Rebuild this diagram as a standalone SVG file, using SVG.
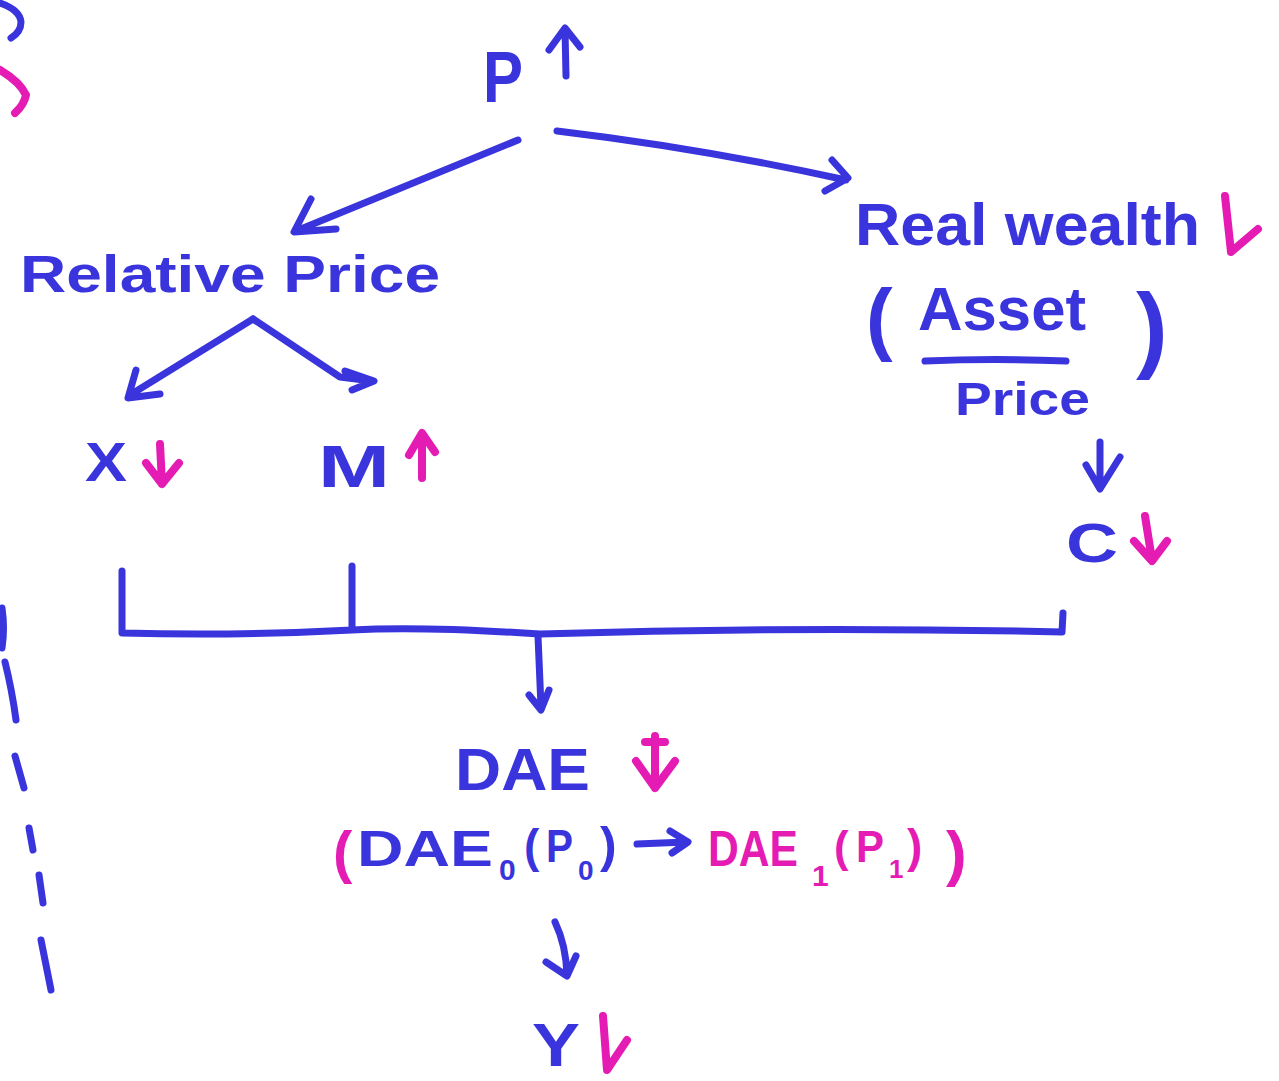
<svg xmlns="http://www.w3.org/2000/svg" width="1279" height="1081" viewBox="0 0 1279 1081">
<style>
.bg{fill:#ffffff}
.t{font-family:"Liberation Sans","DejaVu Sans",sans-serif;font-weight:bold;fill:#3a34dc}
.tp{font-family:"Liberation Sans","DejaVu Sans",sans-serif;font-weight:bold;fill:#e41cb4}
.bl{fill:none;stroke:#3a34dc;stroke-width:7;stroke-linecap:round;stroke-linejoin:round}
.pk{fill:none;stroke:#e41cb4;stroke-width:8;stroke-linecap:round;stroke-linejoin:round}
</style>
<rect class="bg" x="0" y="0" width="1279" height="1081"/>

<g id="margin-marks">
<path class="bl" d="M0,3 Q20,10 21,22 Q21,32 11,38"/>
<path class="pk" d="M0,70 Q20,82 26,95 Q24,105 15,113"/>
<path class="bl" d="M2,608 Q5,628 2,648"/>
<path class="bl" d="M5,662 Q12,690 16,720"/>
<path class="bl" d="M15,756 L24,788"/>
<path class="bl" d="M29,828 L33,850"/>
<path class="bl" d="M39,875 L43,903"/>
<path class="bl" d="M41,940 Q46,965 51,990"/>
</g>

<g id="node-P">
<text class="t" x="483" y="102" font-size="72" textLength="40" lengthAdjust="spacingAndGlyphs">P</text>
<path class="bl" d="M566,76 L565,30 M549,50 L565,28 L580,47"/>
</g>

<g id="node-relative-price">
<text class="t" x="20" y="292" font-size="52" textLength="420" lengthAdjust="spacingAndGlyphs">Relative Price</text>
</g>

<g id="node-real-wealth">
<text class="t" x="855" y="245" font-size="60" textLength="345" lengthAdjust="spacingAndGlyphs">Real wealth</text>
<path class="pk" d="M1225,196 L1231,252 L1258,229"/>
<text class="t" x="866" y="345" font-size="80">(</text>
<text class="t" x="918" y="330" font-size="62" textLength="168" lengthAdjust="spacingAndGlyphs">Asset</text>
<path class="bl" d="M925,361 Q995,358 1066,361"/>
<text class="t" x="955" y="415" font-size="46" textLength="135" lengthAdjust="spacingAndGlyphs">Price</text>
<text class="t" x="1136" y="360" font-size="95">)</text>
</g>

<g id="node-X">
<text class="t" x="85" y="481" font-size="56" textLength="42" lengthAdjust="spacingAndGlyphs">X</text>
<path class="pk" d="M160,444 L162,484 M146,463 L162,484 L179,463"/>
</g>

<g id="node-M">
<text class="t" x="318" y="487" font-size="60" textLength="72" lengthAdjust="spacingAndGlyphs">M</text>
<path class="pk" d="M422,478 L422,436 M409,455 L422,433 L435,452"/>
</g>

<g id="node-C">
<text class="t" x="1066" y="562" font-size="56" textLength="52" lengthAdjust="spacingAndGlyphs">C</text>
<path class="pk" d="M1145,516 L1152,560 M1134,541 L1152,561 L1167,541"/>
</g>

<g id="node-DAE">
<text class="t" x="455" y="790" font-size="60" textLength="135" lengthAdjust="spacingAndGlyphs">DAE</text>
<path class="pk" d="M655,736 L655,788 M636,761 L655,788 L675,761 M645,742 L665,742"/>
<text font-size="50"><tspan class="tp" x="333" y="872" font-size="58">(</tspan><tspan class="t" x="357" y="866" textLength="136" lengthAdjust="spacingAndGlyphs">DAE</tspan><tspan class="t" x="499" y="880" font-size="30">0</tspan><tspan class="t" x="524" y="862" font-size="46">(</tspan><tspan class="t" x="546" y="862" font-size="46" textLength="27" lengthAdjust="spacingAndGlyphs">P</tspan><tspan class="t" x="578" y="880" font-size="28">0</tspan><tspan class="t" x="600" y="862" font-size="50">)</tspan><tspan class="tp" x="708" y="866" textLength="90" lengthAdjust="spacingAndGlyphs">DAE</tspan><tspan class="tp" x="812" y="886" font-size="30">1</tspan><tspan class="tp" x="834" y="862" font-size="44">(</tspan><tspan class="tp" x="856" y="862" font-size="44" textLength="28" lengthAdjust="spacingAndGlyphs">P</tspan><tspan class="tp" x="889" y="878" font-size="26">1</tspan><tspan class="tp" x="907" y="862" font-size="46">)</tspan><tspan class="tp" x="946" y="874" font-size="62">)</tspan></text>
<path class="bl" d="M637,844 L686,842 M670,831 L688,842 L672,853"/>
</g>

<g id="node-Y">
<text class="t" x="532" y="1066" font-size="62" textLength="48" lengthAdjust="spacingAndGlyphs">Y</text>
<path class="pk" d="M603,1016 L607,1070 L627,1040"/>
</g>

<g id="connectors">
<path class="bl" d="M518,140 L296,231 M311,199 L294,232 L336,229"/>
<path class="bl" d="M557,131 Q700,148 846,180 M832,160 L848,178 L825,191"/>
<path class="bl" d="M253,319 L130,395 M136,370 L128,398 L160,394"/>
<path class="bl" d="M253,319 L340,377 L372,381 M345,371 L374,381 L352,390"/>
<path class="bl" d="M1100,442 L1100,488 M1086,465 L1100,489 L1120,457"/>
<path class="bl" d="M122,571 L122,633 Q240,636 352,630 M352,566 L352,630 Q420,626 540,634 Q800,626 1062,632 L1063,613"/>
<path class="bl" d="M538,636 L541,707 M529,695 L541,710 L549,690"/>
<path class="bl" d="M555,922 Q566,945 567,975 M546,962 L567,976 L576,956"/>
</g>
</svg>
